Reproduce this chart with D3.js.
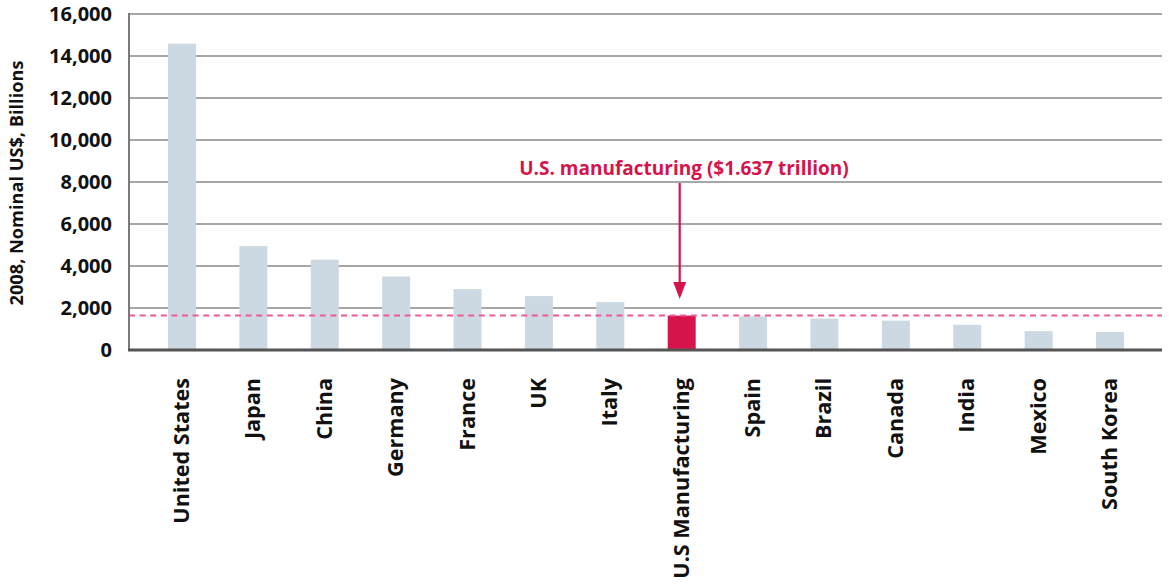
<!DOCTYPE html>
<html>
<head>
<meta charset="utf-8">
<script src="https://cdn.jsdelivr.net/npm/d3@7"></script>
<style>
  html, body { margin: 0; padding: 0; background: #fff; }
  svg { display: block; font-family: "Open Sans", "Noto Sans", sans-serif; font-weight: 700; }
</style>
</head>
<body>
<svg id="chart" width="1169" height="586"></svg>
<script>
// 2008 GDP, nominal US$ billions, with U.S. manufacturing output for comparison
const categories = ["United States", "Japan", "China", "Germany", "France", "UK", "Italy",
  "U.S Manufacturing", "Spain", "Brazil", "Canada", "India", "Mexico", "South Korea"];
const values = [14590, 4950, 4300, 3500, 2900, 2570, 2290, 1637, 1600, 1500, 1400, 1200, 900, 860];
const highlight = "U.S Manufacturing";
const referenceValue = 1637;
const annotationText = "U.S. manufacturing ($1.637 trillion)";
const yTicks = [0, 2000, 4000, 6000, 8000, 10000, 12000, 14000, 16000];
const yTitle = "2008, Nominal US$, Billions";

const svg = d3.select("#chart");
const plot = { left: 129, right: 1162, top: 14, bottom: 350 };
const red = "#d4144a";

const x = d3.scalePoint().domain(categories).range([182, 1110]);
const y = d3.scaleLinear().domain([0, 16000]).range([plot.bottom, plot.top]);
const barW = 28;

// horizontal gridlines
svg.append("g")
  .selectAll("line")
  .data(yTicks.filter(d => d > 0))
  .join("line")
  .attr("x1", plot.left).attr("x2", plot.right)
  .attr("y1", d => y(d)).attr("y2", d => y(d))
  .attr("stroke", "#8a8a8a").attr("stroke-width", 1.4);

// y axis labels
const yAxis = d3.axisLeft(y).tickValues(yTicks).tickFormat(d3.format(",")).tickSize(0).tickPadding(17);
const ya = svg.append("g").attr("transform", `translate(${plot.left},0)`).call(yAxis);
ya.select(".domain").remove();
ya.selectAll("text").attr("font-size", 20).attr("font-weight", 700).attr("fill", "#111")
  .attr("font-family", "'Open Sans', sans-serif");

// y axis title
svg.append("text")
  .attr("transform", `translate(23,${(plot.top + plot.bottom) / 2 + 1}) rotate(-90)`)
  .attr("text-anchor", "middle")
  .attr("font-size", 18.2).attr("fill", "#111")
  .text(yTitle);

// bars
svg.append("g")
  .selectAll("rect")
  .data(categories.map((c, i) => ({ c, v: values[i] })))
  .join("rect")
  .attr("x", d => x(d.c) - barW / 2)
  .attr("width", barW)
  .attr("y", d => y(d.v))
  .attr("height", d => y(0) - y(d.v))
  .attr("fill", d => d.c === highlight ? red : "#cdd9e2");

// reference line at the manufacturing value
svg.append("line")
  .attr("x1", plot.left).attr("x2", plot.right)
  .attr("y1", y(referenceValue)).attr("y2", y(referenceValue))
  .attr("stroke", "#ee5a96").attr("stroke-width", 2)
  .attr("stroke-dasharray", "6,4.6");

// left axis line and baseline
svg.append("line")
  .attr("x1", plot.left).attr("x2", plot.left)
  .attr("y1", plot.top - 1).attr("y2", plot.bottom)
  .attr("stroke", "#7a7a7a").attr("stroke-width", 2);
svg.append("line")
  .attr("x1", plot.left - 1).attr("x2", plot.right)
  .attr("y1", plot.bottom).attr("y2", plot.bottom)
  .attr("stroke", "#555").attr("stroke-width", 3);

// category labels
svg.append("g")
  .selectAll("text")
  .data(categories)
  .join("text")
  .attr("transform", d => `translate(${x(d) + 7},378) rotate(-90)`)
  .attr("text-anchor", "end")
  .attr("font-size", 21.6).attr("fill", "#111")
  .text(d => d);

// annotation with arrow pointing at the highlighted bar
const ax = x(highlight) - 2;
const tipY = 299;
svg.append("line")
  .attr("x1", ax).attr("x2", ax)
  .attr("y1", 183).attr("y2", tipY - 12)
  .attr("stroke", red).attr("stroke-width", 2.2);
svg.append("path")
  .attr("d", d3.line()([[ax - 6.5, tipY - 17], [ax + 6.5, tipY - 17], [ax, tipY]]) + "Z")
  .attr("fill", red);
svg.append("text")
  .attr("x", 684).attr("y", 175)
  .attr("text-anchor", "middle")
  .attr("font-size", 19).attr("fill", red)
  .text(annotationText);
</script>
</body>
</html>
